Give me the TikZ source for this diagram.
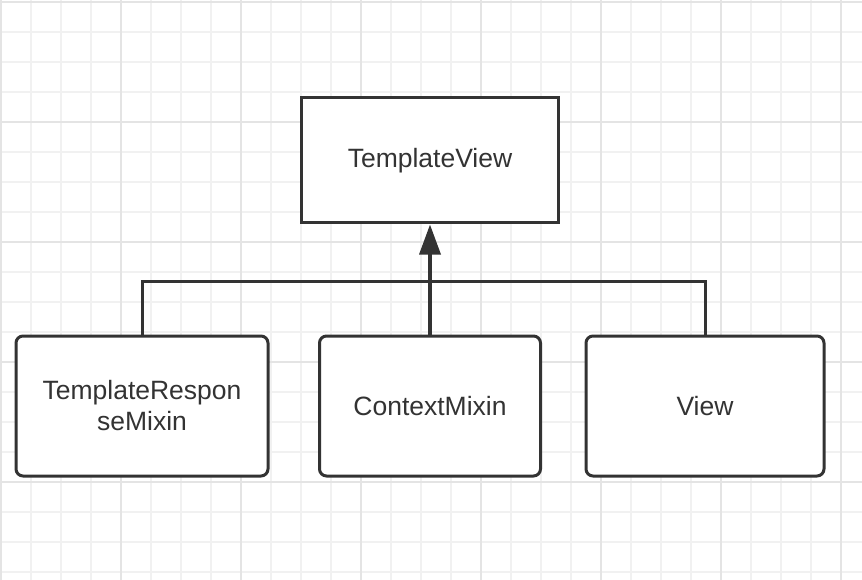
\documentclass[tikz,border=0pt]{standalone}
\usepackage{fontspec}
\setmainfont{Liberation Sans}
\usetikzlibrary{arrows.meta}
\definecolor{ink}{HTML}{333333}
\definecolor{gridminor}{HTML}{F1F1F1}
\definecolor{gridmajor}{HTML}{E4E4E4}
\tikzset{
  classbox/.style={draw=ink, line width=3pt, fill=white, inner sep=0pt, align=center,
    text=ink, font=\fontsize{26.5}{31}\selectfont},
  roundbox/.style={classbox, rounded corners=7pt},
  link/.style={draw=ink, line width=3pt},
}
\begin{document}
\begin{tikzpicture}[x=1pt,y=-1pt]
\useasboundingbox (0,0) rectangle (862,580);
\fill[white] (0,0) rectangle (862,580);
% grid
\foreach \k in {0,...,28} {\draw[gridminor, line width=1.5pt] ({1+30*\k},0) -- ({1+30*\k},580);}
\foreach \k in {0,...,19} {\draw[gridminor, line width=1.5pt] (0,{2+30*\k}) -- (862,{2+30*\k});}
\foreach \k in {0,...,7} {\draw[gridmajor, line width=1.5pt] ({1+120*\k},0) -- ({1+120*\k},580);}
\foreach \k in {0,...,4} {\draw[gridmajor, line width=1.5pt] (0,{2+120*\k}) -- (862,{2+120*\k});}
% nodes
\node[classbox, minimum width=257pt, minimum height=125pt] (tv) at (430,160.5) {TemplateView};
\node[roundbox, minimum width=252pt, minimum height=140pt] (trm) at (142,406) {TemplateRespon\\seMixin};
\node[roundbox, minimum width=221pt, minimum height=140pt] (cm) at (430,406) {ContextMixin};
\node[roundbox, minimum width=238pt, minimum height=140pt] (view) at (705,406) {View};
% connectors
\coordinate (j) at (430,281);
\draw[link] (trm.north) |- (j) -| (view.north);
\draw[link, line width=3.5pt, -{Triangle[length=30pt,width=21pt]}] (cm.north) -- (tv.south);
\end{tikzpicture}
\end{document}
